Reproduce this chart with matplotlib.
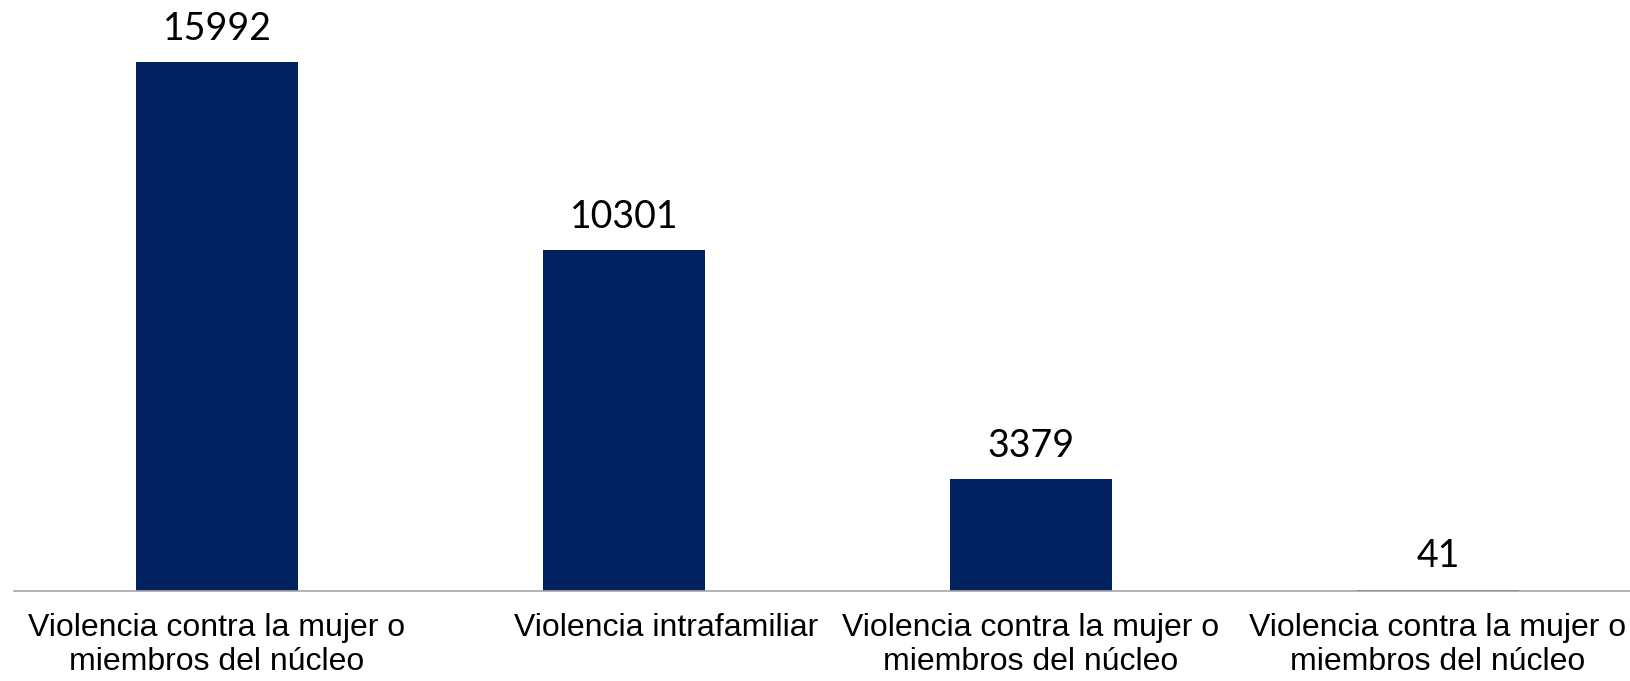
import numpy as np
import matplotlib.pyplot as plt
import matplotlib.transforms as mtransforms

# Data
categories = [
    "Violencia contra la mujer o\nmiembros del núcleo",
    "Violencia intrafamiliar",
    "Violencia contra la mujer o\nmiembros del núcleo",
    "Violencia contra la mujer o\nmiembros del núcleo",
]
values = [15992, 10301, 3379, 41]

fig = plt.figure(figsize=(16.3, 6.81), dpi=100)
ax = fig.add_axes([13.5 / 1630, 90 / 681, 1628 / 1630, 579 / 681])

x = np.arange(len(values))
bars = ax.bar(x, values, width=0.4, color="#022160")

# value labels
for b, v in zip(bars, values):
    ax.annotate(str(v), (b.get_x() + b.get_width() / 2, v),
                xytext=(0, 11), textcoords="offset points",
                ha="center", va="bottom", fontsize=27, family="Lato")

ax.set_xlim(-0.5, 3.5)
ax.set_ylim(0, 17500)
ax.set_xticks(x)
labels = ax.set_xticklabels(categories, fontsize=23, family="Liberation Sans",
                            linespacing=1.15)
ax.tick_params(axis="x", length=0, pad=16)
ax.set_yticks([])

# the single-line label sits a bit right of its bar in the original
shift = mtransforms.ScaledTranslation(42 / 100, 0, fig.dpi_scale_trans)
labels[1].set_transform(labels[1].get_transform() + shift)

for s in ("top", "right", "left"):
    ax.spines[s].set_visible(False)
ax.spines["bottom"].set_color("#a6a6a6")
ax.spines["bottom"].set_linewidth(1.2)

fig.savefig("out.png", dpi=100)
